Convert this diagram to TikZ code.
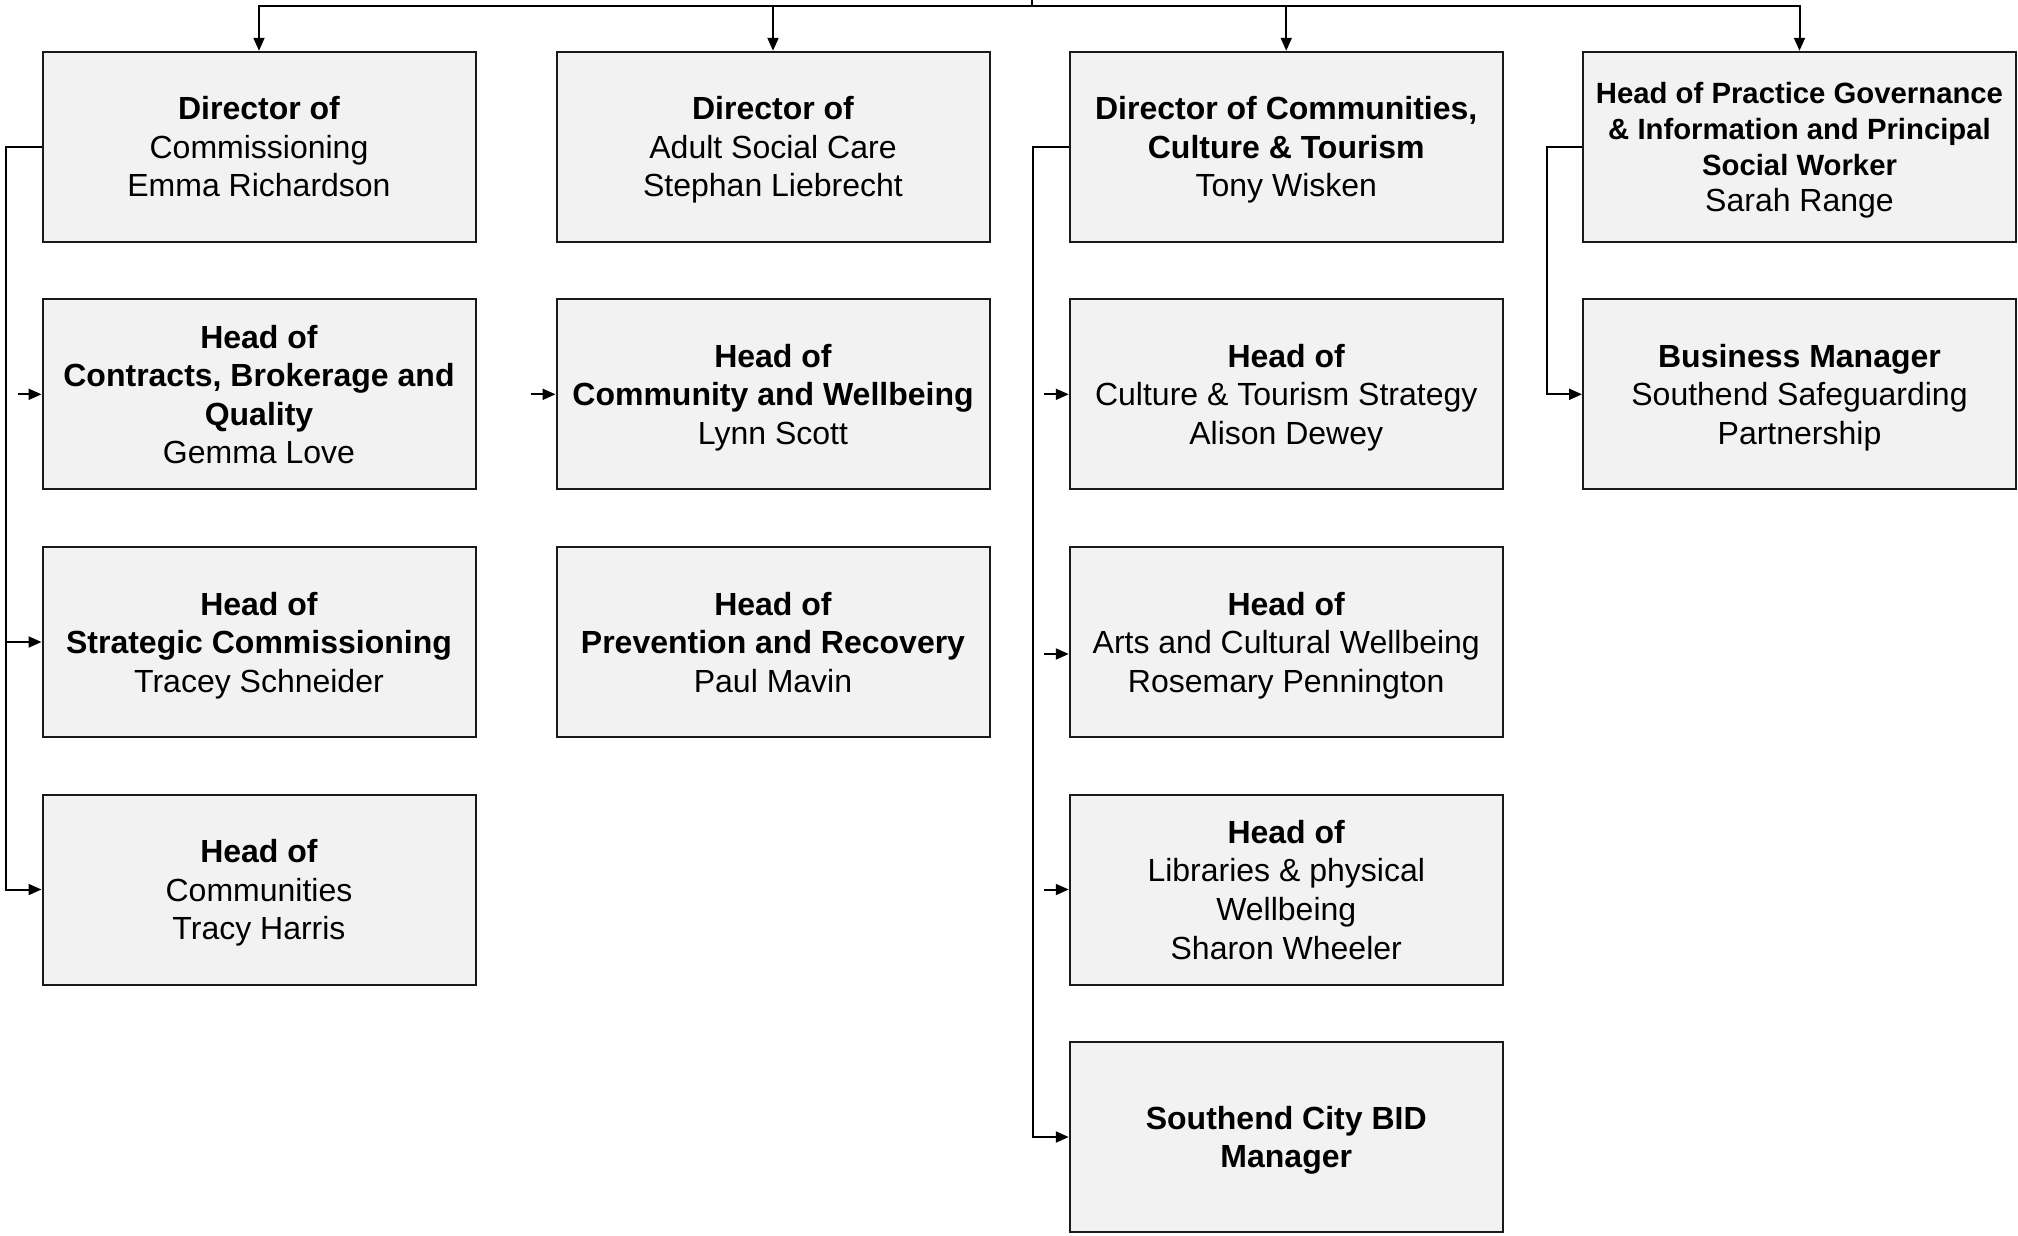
\documentclass[tikz,border=0pt]{standalone}
\usepackage{fontspec}
\setmainfont{Liberation Sans}
\usetikzlibrary{arrows.meta}
\definecolor{boxfill}{HTML}{F2F2F2}
\definecolor{boxline}{HTML}{1A1A1A}
\tikzset{
  box/.style={draw=boxline, fill=boxfill, line width=2pt, minimum width=433pt, minimum height=190pt,
    inner sep=0pt, align=center, text depth=0pt, font=\fontsize{32}{38.6}\selectfont},
  smallbox/.style={box, font=\fontsize{29.3}{36}\selectfont},
  arr/.style={-{Triangle[length=13pt,width=11pt]}, line width=2pt, draw=black},
  ln/.style={line width=2pt, draw=black}
}
\begin{document}
\begin{tikzpicture}[x=1pt,y=-1pt]
\useasboundingbox (0,0) rectangle (2018,1235);
% column 1
\node[box] (c1r1) at (259,146.75) {\textbf{Director of}\\Commissioning\\Emma Richardson};
\node[box] (c1r2) at (259,394.3) {\textbf{Head of}\\\textbf{Contracts, Brokerage and}\\\textbf{Quality}\\Gemma Love};
\node[box] (c1r3) at (259,642) {\textbf{Head of}\\\textbf{Strategic Commissioning}\\Tracey Schneider};
\node[box] (c1r4) at (259,889.5) {\textbf{Head of}\\Communities\\Tracy Harris};
% column 2
\node[box] (c2r1) at (773,146.75) {\textbf{Director of}\\Adult Social Care\\Stephan Liebrecht};
\node[box] (c2r2) at (773,394.3) {\textbf{Head of}\\\textbf{Community and Wellbeing}\\Lynn Scott};
\node[box] (c2r3) at (773,642) {\textbf{Head of}\\\textbf{Prevention and Recovery}\\Paul Mavin};
% column 3
\node[box] (c3r1) at (1286.25,146.75) {\textbf{Director of Communities,}\\\textbf{Culture \& Tourism}\\Tony Wisken};
\node[box] (c3r2) at (1286.25,394.3) {\textbf{Head of}\\Culture \& Tourism Strategy\\Alison Dewey};
\node[box] (c3r3) at (1286.25,642) {\textbf{Head of}\\Arts and Cultural Wellbeing\\Rosemary Pennington};
\node[box] (c3r4) at (1286.25,889.5) {\textbf{Head of}\\Libraries \& physical\\Wellbeing\\Sharon Wheeler};
\node[box] (c3r5) at (1286.25,1137) {\textbf{Southend City BID}\\\textbf{Manager}};
% column 4
\node[smallbox] (c4r1) at (1799.5,146.75) {\textbf{Head of Practice Governance}\\\textbf{\& Information and Principal}\\\textbf{Social Worker}\\{\fontsize{32}{36}\selectfont Sarah Range}};
\node[box] (c4r2) at (1799.5,394.3) {\textbf{Business Manager}\\Southend Safeguarding\\Partnership};
% top bus
\coordinate (top) at (1032,0);
\coordinate (bus) at (1032,6);
\draw[ln] (top) -- (bus);
\draw[arr] (bus) -| (c1r1.north);
\draw[arr] (bus) -| (c2r1.north);
\draw[arr] (bus) -| (c3r1.north);
\draw[arr] (bus) -| (c4r1.north);
% column 1 rail
\coordinate (rail1) at (6,0);
\draw[arr] (c1r1.west) -- (c1r1.west -| rail1) |- (c1r4.west);
\draw[arr] (c1r3.west -| rail1) -- (c1r3.west);
\draw[arr] ([xshift=-24pt]c1r2.west) -- (c1r2.west);
% column 2 stub
\draw[arr] ([xshift=-25pt]c2r2.west) -- (c2r2.west);
% column 3 rail
\coordinate (rail3) at (1033.3,0);
\draw[arr] (c3r1.west) -- (c3r1.west -| rail3) |- (c3r5.west);
\draw[arr] ([xshift=-25pt]c3r2.west) -- (c3r2.west);
\draw[arr] ([shift={(-25pt,-12pt)}]c3r3.west) -- ([yshift=-12pt]c3r3.west);
\draw[arr] ([xshift=-25pt]c3r4.west) -- (c3r4.west);
% column 4 rail
\coordinate (rail4) at (1546.7,0);
\draw[arr] (c4r1.west) -- (c4r1.west -| rail4) |- (c4r2.west);
\end{tikzpicture}
\end{document}
